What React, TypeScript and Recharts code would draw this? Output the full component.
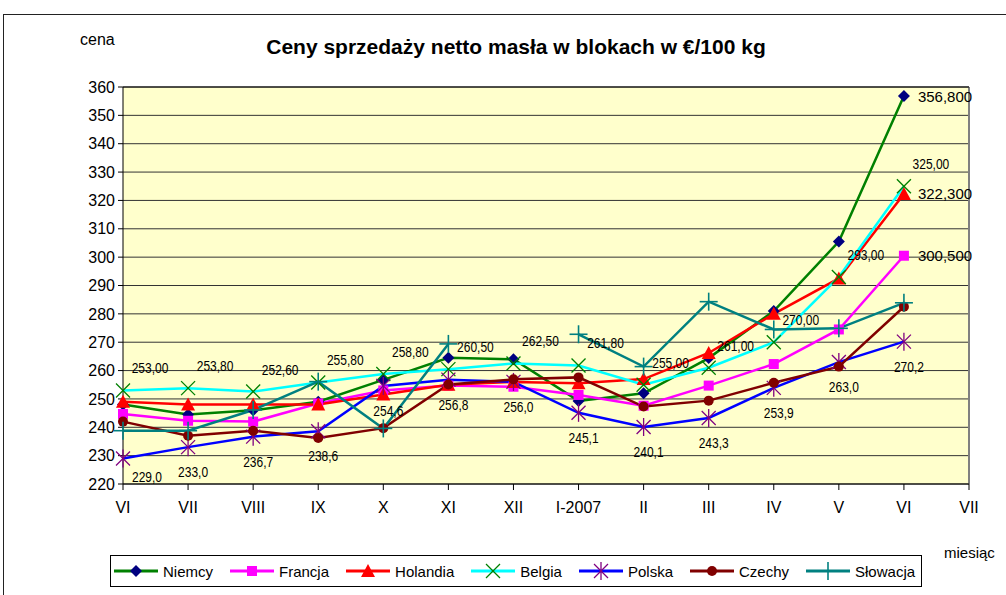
import React from "react";
import { LineChart, Line, XAxis, YAxis, CartesianGrid, Legend, LabelList, ReferenceLine } from "recharts";

const months = ["VI", "VII", "VIII", "IX", "X", "XI", "XII", "I-2007", "II", "III", "IV", "V", "VI", "VII"];
const yTicks = [220, 230, 240, 250, 260, 270, 280, 290, 300, 310, 320, 330, 340, 350, 360];

const niemcy = [248, 244.5, 246, 249, 256.7, 264.5, 264, 249.3, 252, 264.4, 281, 305.5, 356.8, null];
const francja = [244.7, 242.3, 242, 248.4, 253, 254.7, 254.3, 251.4, 247.6, 254.7, 262.3, 274.5, 300.5, null];
const holandia = [249, 248, 248, 248, 251.6, 255, 256, 255.5, 257, 266.2, 280, 292.5, 322.3, null];
const belgia = [253.0, 253.8, 252.6, 255.8, 258.8, 260.5, 262.5, 261.8, 255.0, 261.0, 270.0, 293.0, 325.0, null];
const polska = [229.0, 233.0, 236.7, 238.6, 254.6, 256.8, 256.0, 245.1, 240.1, 243.3, 253.9, 263.0, 270.2, null];
const czechy = [242, 237, 238.8, 236.2, 239.7, 255.1, 256.9, 257.6, 247.3, 249.4, 255.7, 261.4, 282.5, null];
const slowacja = [238.8, 238.8, 246.1, 256.1, 239.6, 269.4, null, 272.8, 261.4, 284.3, 274.5, 274.9, 283.9, null];

const rows = months.map((m, i) => ({
  i,
  niemcy: niemcy[i],
  francja: francja[i],
  holandia: holandia[i],
  belgia: belgia[i],
  polska: polska[i],
  czechy: czechy[i],
  slowacja: slowacja[i],
}));

const FONT = "'Liberation Sans', Arial, sans-serif";

type Shape = "diamond" | "square" | "triangle" | "x" | "star" | "circle" | "plus";

function Marker({ shape, cx, cy, color }: { shape: Shape; cx: number; cy: number; color: string }) {
  switch (shape) {
    case "diamond":
      return <polygon points={`${cx},${cy - 6} ${cx + 6},${cy} ${cx},${cy + 6} ${cx - 6},${cy}`} fill={color} />;
    case "square":
      return <rect x={cx - 5} y={cy - 5} width={10} height={10} fill={color} />;
    case "triangle":
      return <polygon points={`${cx},${cy - 7} ${cx + 7},${cy + 6} ${cx - 7},${cy + 6}`} fill={color} />;
    case "x":
      return (
        <g stroke={color} strokeWidth={1.3}>
          <line x1={cx - 7} y1={cy - 7} x2={cx + 7} y2={cy + 7} />
          <line x1={cx - 7} y1={cy + 7} x2={cx + 7} y2={cy - 7} />
        </g>
      );
    case "star":
      return (
        <g stroke={color} strokeWidth={1.3}>
          <line x1={cx - 7} y1={cy - 7} x2={cx + 7} y2={cy + 7} />
          <line x1={cx - 7} y1={cy + 7} x2={cx + 7} y2={cy - 7} />
          <line x1={cx} y1={cy - 9} x2={cx} y2={cy + 9} />
        </g>
      );
    case "circle":
      return <circle cx={cx} cy={cy} r={5} fill={color} />;
    case "plus":
      return (
        <g stroke={color} strokeWidth={1.6}>
          <line x1={cx - 9} y1={cy} x2={cx + 9} y2={cy} />
          <line x1={cx} y1={cy - 9} x2={cx} y2={cy + 9} />
        </g>
      );
  }
  return null;
}

const makeDot = (shape: Shape, color: string) => (p: any) => {
  if (p.cx == null || p.cy == null || p.value == null) return <g key={`d-${p.index}`} />;
  return (
    <g key={`d-${p.index}`}>
      <Marker shape={shape} cx={p.cx} cy={p.cy} color={color} />
    </g>
  );
};

const series: { key: string; name: string; line: string; marker: string; shape: Shape }[] = [
  { key: "niemcy", name: "Niemcy", line: "#008000", marker: "#000080", shape: "diamond" },
  { key: "francja", name: "Francja", line: "#FF00FF", marker: "#FF00FF", shape: "square" },
  { key: "holandia", name: "Holandia", line: "#FF0000", marker: "#FF0000", shape: "triangle" },
  { key: "belgia", name: "Belgia", line: "#00FFFF", marker: "#008000", shape: "x" },
  { key: "polska", name: "Polska", line: "#0000FF", marker: "#800080", shape: "star" },
  { key: "czechy", name: "Czechy", line: "#800000", marker: "#800000", shape: "circle" },
  { key: "slowacja", name: "Słowacja", line: "#008080", marker: "#008080", shape: "plus" },
];

const fmt = (v: number, d: number) => v.toFixed(d).replace(".", ",");

// narrow-looking label text (horizontally squeezed like the Excel export)
function NarrowText({ x, y, children }: { x: number; y: number; children: React.ReactNode }) {
  return (
    <g transform={`translate(${x},${y}) scale(0.8,1)`}>
      <text x={0} y={0} textAnchor="middle" dominantBaseline="central" fontSize={15} fontFamily={FONT} fill="#000">
        {children}
      </text>
    </g>
  );
}

const belgiaLabel = (p: any) => {
  if (p.value == null) return null;
  return (
    <NarrowText x={p.x + 27} y={p.y - 22}>
      {fmt(p.value, 2)}
    </NarrowText>
  );
};

const polskaLabel = (p: any) => {
  if (p.value == null) return null;
  const dx = p.index === 0 ? 24 : 5;
  const dy = p.index === 0 ? 19 : 25;
  return (
    <NarrowText x={p.x + dx} y={p.y + dy}>
      {fmt(p.value, 1)}
    </NarrowText>
  );
};

const lastLabel = (p: any) => {
  if (p.value == null || p.index !== 12) return null;
  return (
    <text x={p.x + 14} y={p.y} textAnchor="start" dominantBaseline="central" fontSize={15} fontFamily={FONT} fill="#000">
      {fmt(p.value, 3)}
    </text>
  );
};

function LegendBox() {
  return (
    <div
      style={{
        border: "1px solid #000",
        background: "#fff",
        display: "flex",
        alignItems: "center",
        height: 32,
        boxSizing: "border-box",
        paddingLeft: 2,
        fontFamily: FONT,
        fontSize: 15,
        color: "#000",
      }}
    >
      {series.map((s) => (
        <div key={s.key} style={{ display: "flex", alignItems: "center", marginRight: 16 }}>
          <svg width={46} height={20}>
            <line x1={1} y1={10} x2={45} y2={10} stroke={s.line} strokeWidth={3} />
            <Marker shape={s.shape} cx={23} cy={10} color={s.marker} />
          </svg>
          <span style={{ marginLeft: 4 }}>{s.name}</span>
        </div>
      ))}
    </div>
  );
}

export default function App() {
  return (
    <div style={{ position: "absolute", left: 0, top: 0, width: 1006, height: 595, overflow: "hidden", background: "#fff" }}>
      <div style={{ position: "absolute", left: 3, top: 14, width: 1020, height: 620, border: "1.5px solid #222" }} />
      <div
        style={{
          position: "absolute",
          left: 30,
          top: 35,
          width: 972,
          textAlign: "center",
          fontFamily: FONT,
          fontWeight: "bold",
          fontSize: 21,
          color: "#000",
        }}
      >
        Ceny sprzedaży netto masła w blokach w €/100 kg
      </div>
      <div style={{ position: "absolute", left: 80, top: 31, fontFamily: FONT, fontSize: 16, color: "#000" }}>cena</div>
      <div style={{ position: "absolute", left: 944, top: 544, fontFamily: FONT, fontSize: 15, color: "#000" }}>miesiąc</div>
      <LineChart width={1006} height={595} data={rows} margin={{ top: 87, right: 37, bottom: 81, left: 73 }}>
        <CartesianGrid vertical={false} fill="#FFFFCC" stroke="#333" strokeWidth={1} />
        <XAxis
          dataKey="i"
          type="number"
          domain={[0, 13]}
          ticks={months.map((_, i) => i)}
          interval={0}
          tickFormatter={(v: number) => months[v]}
          height={30}
          tickSize={6}
          tickMargin={12}
          axisLine={{ stroke: "#000" }}
          tickLine={{ stroke: "#000" }}
          tick={{ fill: "#000", fontSize: 16, fontFamily: FONT }}
        />
        <YAxis
          domain={[220, 360]}
          ticks={yTicks}
          interval={0}
          width={50}
          tickSize={5}
          tickMargin={3}
          axisLine={{ stroke: "#000" }}
          tickLine={{ stroke: "#000" }}
          tick={{ fill: "#000", fontSize: 16, fontFamily: FONT }}
        />
        <ReferenceLine x={13} stroke="#808080" strokeWidth={2} />
        <ReferenceLine y={360} stroke="#000" strokeWidth={1} />
        {series.map((s) => (
          <Line
            key={s.key}
            dataKey={s.key}
            name={s.name}
            stroke={s.line}
            strokeWidth={2.5}
            dot={makeDot(s.shape, s.marker)}
            activeDot={false}
            isAnimationActive={false}
            connectNulls={false}
          >
            {s.key === "belgia" && <LabelList dataKey="belgia" content={belgiaLabel} />}
            {s.key === "polska" && <LabelList dataKey="polska" content={polskaLabel} />}
            {(s.key === "niemcy" || s.key === "holandia" || s.key === "francja") && (
              <LabelList dataKey={s.key} content={lastLabel} />
            )}
          </Line>
        ))}
        <Legend
          layout="vertical"
          align="center"
          verticalAlign="middle"
          content={() => <LegendBox />}
          wrapperStyle={{ position: "absolute", left: 110, top: 555, width: 812, height: 32 }}
        />
      </LineChart>
    </div>
  );
}
